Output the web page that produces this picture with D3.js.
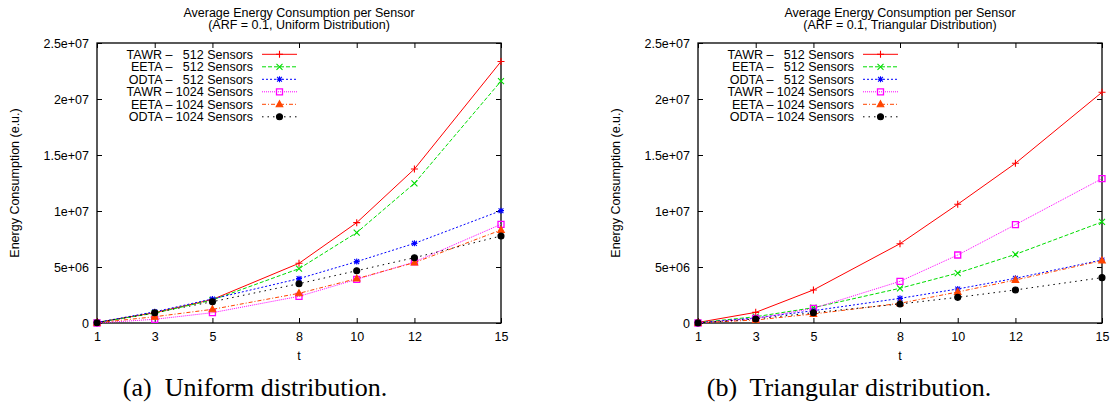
<!DOCTYPE html>
<html>
<head>
<meta charset="utf-8">
<script src="https://cdn.jsdelivr.net/npm/d3@7"></script>
<style>
  html, body { margin: 0; padding: 0; background: #fff; }
  svg { display: block; }
  text { font-family: "Liberation Sans", Arial, Helvetica, sans-serif; fill: #000; }
  .caption { font-family: "Liberation Serif", "Times New Roman", serif; }
</style>
</head>
<body>
<svg id="fig" width="1115" height="411"></svg>
<script>
// Sampling steps shared by both panels
const tValues = [1, 3, 5, 8, 10, 12, 15];
const xTickValues = [1, 3, 5, 8, 10, 12, 15];
const yTickValues = [0, 5e6, 1e7, 1.5e7, 2e7, 2.5e7];
const yTickLabels = ["0", "5e+06", "1e+07", "1.5e+07", "2e+07", "2.5e+07"];

const seriesLabels = [
  "TAWR \u2013   512 Sensors",
  "EETA \u2013   512 Sensors",
  "ODTA \u2013   512 Sensors",
  "TAWR \u2013 1024 Sensors",
  "EETA \u2013 1024 Sensors",
  "ODTA \u2013 1024 Sensors"
];

// Uniform distribution (energy units)
const uniformTAWR512  = [0.05e6, 0.92e6, 2.10e6, 5.33e6, 8.96e6, 13.75e6, 23.35e6];
const uniformEETA512  = [0.05e6, 0.88e6, 2.05e6, 4.85e6, 8.07e6, 12.47e6, 21.60e6];
const uniformODTA512  = [0.05e6, 1.00e6, 2.15e6, 3.96e6, 5.48e6, 7.11e6, 10.03e6];
const uniformTAWR1024 = [0.00e6, 0.33e6, 0.92e6, 2.38e6, 3.90e6, 5.45e6, 8.81e6];
const uniformEETA1024 = [0.02e6, 0.56e6, 1.22e6, 2.65e6, 3.96e6, 5.39e6, 8.30e6];
const uniformODTA1024 = [0.02e6, 0.92e6, 1.90e6, 3.51e6, 4.67e6, 5.83e6, 7.77e6];

// Triangular distribution (energy units)
const triangTAWR512  = [0.05e6, 0.95e6, 2.95e6, 7.08e6, 10.60e6, 14.26e6, 20.60e6];
const triangEETA512  = [0.03e6, 0.56e6, 1.37e6, 3.10e6, 4.46e6, 6.13e6, 9.02e6];
const triangODTA512  = [0.02e6, 0.45e6, 1.10e6, 2.20e6, 3.04e6, 3.99e6, 5.63e6];
const triangTAWR1024 = [0.00e6, 0.40e6, 1.31e6, 3.72e6, 6.07e6, 8.78e6, 12.89e6];
const triangEETA1024 = [0.01e6, 0.27e6, 0.80e6, 1.76e6, 2.77e6, 3.84e6, 5.57e6];
const triangODTA1024 = [0.01e6, 0.36e6, 0.92e6, 1.70e6, 2.29e6, 2.95e6, 4.05e6];

// Line styles for the six series (gnuplot-like)
const styles = [
  { color: "#ff0000", dash: null,        marker: "plus" },
  { color: "#00dd00", dash: "4,2",       marker: "times" },
  { color: "#0000ff", dash: "2,2",       marker: "asterisk" },
  { color: "#ff00ff", dash: "1,1",       marker: "square" },
  { color: "#ff4500", dash: "4,2,1,2",   marker: "triangle" },
  { color: "#000000", dash: "1.5,4",     marker: "circle" }
];

const panels = [
  {
    left: 97, right: 501, captionX: 255,
    title: ["Average Energy Consumption per Sensor", "(ARF = 0.1, Uniform Distribution)"],
    caption: "(a)  Uniform distribution.",
    series: [uniformTAWR512, uniformEETA512, uniformODTA512, uniformTAWR1024, uniformEETA1024, uniformODTA1024]
  },
  {
    left: 698, right: 1102, captionX: 849,
    title: ["Average Energy Consumption per Sensor", "(ARF = 0.1, Triangular Distribution)"],
    caption: "(b)  Triangular distribution.",
    series: [triangTAWR512, triangEETA512, triangODTA512, triangTAWR1024, triangEETA1024, triangODTA1024]
  }
];

const plotTop = 43, plotBottom = 323;
const svg = d3.select("#fig");

function markerPath(kind) {
  switch (kind) {
    case "plus":     return "M-3.5,0H3.5M0,-3.5V3.5";
    case "times":    return "M-3,-3L3,3M-3,3L3,-3";
    case "asterisk": return "M-3,0H3M0,-3V3M-2.4,-2.4L2.4,2.4M-2.4,2.4L2.4,-2.4";
    case "square":   return "M-3,-3H3V3H-3Z";
    case "triangle": return "M0,-3.6L3.3,2.4H-3.3Z";
    case "circle":   return "M3,0A3,3 0 1,1 -3,0A3,3 0 1,1 3,0Z";
  }
}
function markerFilled(kind) { return kind === "triangle" || kind === "circle"; }

function drawMarker(g, kind, color, x, y) {
  g.append("path")
    .attr("transform", `translate(${x},${y})`)
    .attr("d", markerPath(kind))
    .attr("fill", markerFilled(kind) ? color : "none")
    .attr("stroke", color)
    .attr("stroke-width", kind === "square" ? 1.3 : 1.1);
}

panels.forEach(p => {
  const x = d3.scaleLinear().domain([1, 15]).range([p.left, p.right]);
  const y = d3.scaleLinear().domain([0, 2.5e7]).range([plotBottom, plotTop]);
  const g = svg.append("g");

  // Axes with inward ticks on all four sides
  const fmt = (d, i) => yTickLabels[i];
  const axL = g.append("g").attr("transform", `translate(${p.left},0)`)
    .call(d3.axisLeft(y).tickValues(yTickValues).tickFormat(fmt).tickSize(-5).tickPadding(8));
  const axR = g.append("g").attr("transform", `translate(${p.right},0)`)
    .call(d3.axisRight(y).tickValues(yTickValues).tickFormat("").tickSize(-5));
  const axB = g.append("g").attr("transform", `translate(0,${plotBottom})`)
    .call(d3.axisBottom(x).tickValues(xTickValues).tickFormat(d3.format("d")).tickSize(-5).tickPadding(9));
  const axT = g.append("g").attr("transform", `translate(0,${plotTop})`)
    .call(d3.axisTop(x).tickValues(xTickValues).tickFormat("").tickSize(-5));
  [axL, axR, axB, axT].forEach(a => {
    a.select(".domain").remove();
    a.selectAll("line").attr("stroke", "#000").attr("stroke-width", 1);
    a.selectAll("text").attr("font-size", 12.5).attr("font-family", "Liberation Sans, Arial, sans-serif").attr("fill", "#000");
  });

  // Frame
  g.append("rect")
    .attr("x", p.left).attr("y", plotTop)
    .attr("width", p.right - p.left).attr("height", plotBottom - plotTop)
    .attr("fill", "none").attr("stroke", "#000").attr("stroke-width", 1.3);

  // Title
  const cx = (p.left + p.right) / 2;
  g.append("text").attr("x", cx).attr("y", 17).attr("text-anchor", "middle")
    .attr("font-size", 12.5).text(p.title[0]);
  g.append("text").attr("x", cx).attr("y", 29).attr("text-anchor", "middle")
    .attr("font-size", 12.5).text(p.title[1]);

  // Axis labels
  g.append("text")
    .attr("transform", `translate(${p.left - 82},183) rotate(-90)`)
    .attr("text-anchor", "middle").attr("dy", "0.35em")
    .attr("font-size", 12.5).text("Energy Consumption (e.u.)");
  g.append("text").attr("x", cx).attr("y", 360).attr("text-anchor", "middle")
    .attr("font-size", 12.5).text("t");

  // Series lines and markers
  const line = d3.line().x((d, i) => x(tValues[i])).y(d => y(d));
  p.series.forEach((vals, si) => {
    const st = styles[si];
    g.append("path").datum(vals)
      .attr("d", line)
      .attr("fill", "none")
      .attr("stroke", st.color)
      .attr("stroke-width", 1)
      .attr("stroke-dasharray", st.dash);
    vals.forEach((v, i) => drawMarker(g, st.marker, st.color, x(tValues[i]), y(v)));
  });

  // Legend
  const textRight = p.left + 156;
  const sampleX0 = p.left + 165, sampleX1 = p.left + 200;
  seriesLabels.forEach((lbl, si) => {
    const st = styles[si];
    const ly = 54.3 + si * 12.5;
    g.append("text").attr("x", textRight).attr("y", ly).attr("dy", "0.35em")
      .attr("text-anchor", "end").attr("font-size", 12.5)
      .style("white-space", "pre").text(lbl);
    g.append("line").attr("x1", sampleX0).attr("x2", sampleX1).attr("y1", ly).attr("y2", ly)
      .attr("stroke", st.color).attr("stroke-width", 1)
      .attr("stroke-dasharray", st.dash);
    drawMarker(g, st.marker, st.color, (sampleX0 + sampleX1) / 2, ly);
  });

  // Caption
  svg.append("text").attr("class", "caption")
    .attr("x", p.captionX).attr("y", 396).attr("text-anchor", "middle")
    .attr("font-size", 26).text(p.caption)
    .style("white-space", "pre");
});
</script>
</body>
</html>
